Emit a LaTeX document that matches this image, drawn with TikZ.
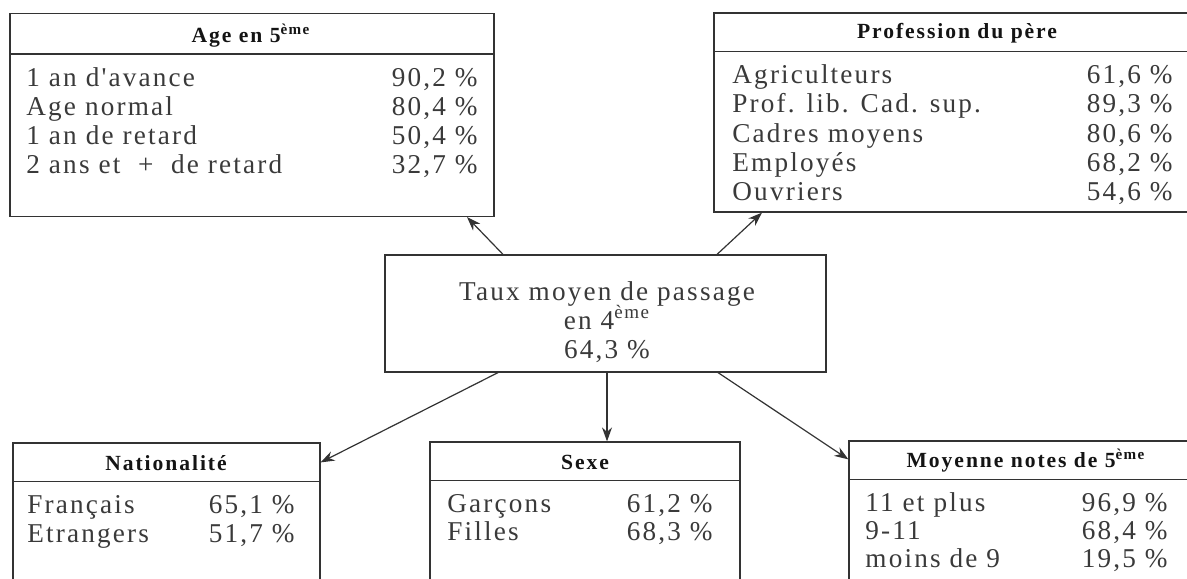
\documentclass[tikz,border=0pt]{standalone}
\usepackage{fontspec}
\setmainfont{Liberation Serif}
\newfontfamily\bodyfont[LetterSpace=8]{Liberation Serif}
\newfontfamily\headfont[LetterSpace=9]{Liberation Serif}
\usetikzlibrary{arrows.meta,calc}
\definecolor{inkline}{HTML}{333333}
\definecolor{inktext}{HTML}{3A3A3A}
\definecolor{inkhead}{HTML}{141414}
\tikzset{
  box/.style={draw=inkline, line width=0.6pt, rectangle, inner sep=0pt},
  sepline/.style={draw=inkline, line width=0.6pt},
  body/.style={inner sep=0pt, text=inktext, font=\bodyfont\fontsize{13.6}{16}\selectfont},
  lab/.style={body, anchor=base west},
  val/.style={body, anchor=base east},
  head/.style={inner sep=0pt, anchor=base, text=inkhead, font=\headfont\bfseries\fontsize{10.8}{13}\selectfont},
  arr/.style={draw=inkline, line width=0.6pt, -{Stealth[length=7pt,width=5pt]}},
}
\begin{document}
\begin{tikzpicture}[x=0.5pt,y=-0.5pt]
\clip (0,0) rectangle (1187,578);
\fill[white] (0,0) rectangle (1187,578);

% boxes
\node[box, minimum width=242pt, minimum height=101.5pt] (age) at (252,115) {};
\node[box, minimum width=239pt, minimum height=99.5pt] (prof) at (953,112.5) {};
\node[box, minimum width=220.5pt, minimum height=58.5pt] (center) at (605.5,313.5) {};
\node[box, minimum width=153.5pt, minimum height=78.5pt] (nat) at (166.5,521.5) {};
\node[box, minimum width=155pt, minimum height=79pt] (sexe) at (585,521) {};
\node[box, minimum width=171.5pt, minimum height=79.5pt] (moy) at (1020.5,520.5) {};

% header separators
\draw[sepline] ($(age.north west)+(0,41)$) -- ($(age.north east)+(0,41)$);
\draw[sepline] ($(prof.north west)+(0,39)$) -- ($(prof.north east)+(0,39)$);
\draw[sepline] ($(nat.north west)+(0,39)$) -- ($(nat.north east)+(0,39)$);
\draw[sepline] ($(sexe.north west)+(0,39)$) -- ($(sexe.north east)+(0,39)$);
\draw[sepline] ($(moy.north west)+(0,39)$) -- ($(moy.north east)+(0,39)$);

% Age en 5eme
\node[head] (ageh) at (251,42) {Age en 5\textsuperscript{ème}};
\node[lab] (a1l) at (26,86) {1 an d'avance};
\node[val] (a1r) at (478,86) {90,2 \%};
\node[lab] (a2l) at (26,115) {Age normal};
\node[val] (a2r) at (478,115) {80,4 \%};
\node[lab] (a3l) at (26,144) {1 an de retard};
\node[val] (a3r) at (478,144) {50,4 \%};
\node[lab] (a4l) at (26,173) {2 ans et\hspace{0.65em}+\hspace{0.65em}de retard};
\node[val] (a4r) at (478,173) {32,7 \%};

% Profession du pere
\node[head] (profh) at (957,39) {Profession du père};
\node[lab] (p1l) at (732,83) {Agriculteurs};
\node[val] (p1r) at (1173,83) {61,6 \%};
\node[lab] (p2l) at (732,112) {Prof. lib. Cad. sup.};
\node[val] (p2r) at (1173,112) {89,3 \%};
\node[lab] (p3l) at (732,142) {Cadres moyens};
\node[val] (p3r) at (1173,142) {80,6 \%};
\node[lab] (p4l) at (732,171) {Employés};
\node[val] (p4r) at (1173,171) {68,2 \%};
\node[lab] (p5l) at (732,200) {Ouvriers};
\node[val] (p5r) at (1173,200) {54,6 \%};

% Center
\node[body, anchor=base] (c1) at (607,300) {Taux moyen de passage};
\node[body, anchor=base] (c2) at (607,329) {en 4\textsuperscript{ème}};
\node[body, anchor=base] (c3) at (607,358) {64,3 \%};

% Nationalite
\node[head] (nath) at (166,470) {Nationalité};
\node[lab] (n1l) at (27,513) {Français};
\node[val] (n1r) at (295,513) {65,1 \%};
\node[lab] (n2l) at (27,542) {Etrangers};
\node[val] (n2r) at (295,542) {51,7 \%};

% Sexe
\node[head] (sexeh) at (585,469) {Sexe};
\node[lab] (s1l) at (447,512) {Garçons};
\node[val] (s1r) at (713,512) {61,2 \%};
\node[lab] (s2l) at (447,540) {Filles};
\node[val] (s2r) at (713,540) {68,3 \%};

% Moyenne notes
\node[head] (moyh) at (1026,467) {Moyenne notes de 5\textsuperscript{ème}};
\node[lab] (m1l) at (865,511) {11 et plus};
\node[val] (m1r) at (1168,511) {96,9 \%};
\node[lab] (m2l) at (865,539) {9-11};
\node[val] (m2r) at (1168,539) {68,4 \%};
\node[lab] (m3l) at (865,567) {moins de 9};
\node[val] (m3r) at (1168,567) {19,5 \%};

% arrows
\draw[arr] ($(center.north)+(-102.5,0)$) -- ($(age.south)+(215,0)$);
\draw[arr] ($(center.north)+(111.5,0)$) -- ($(prof.south)+(-191,0)$);
\draw[arr] ($(center.south)+(-107.5,0)$) -- ($(nat.north east)+(0,20)$);
\draw[arr] ($(center.south)+(1.5,0)$) -- ($(sexe.north)+(22,0)$);
\draw[arr] ($(center.south)+(112.5,0)$) -- ($(moy.north west)+(0,19)$);
\end{tikzpicture}
\end{document}
